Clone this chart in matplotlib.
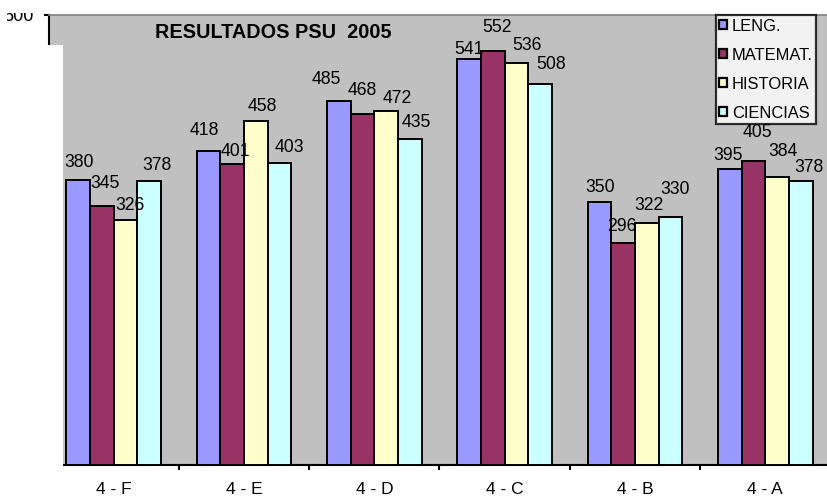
import matplotlib
matplotlib.use("Agg")
import matplotlib.pyplot as plt
from matplotlib.patches import Rectangle, Patch
import numpy as np

categories = ['4 - F', '4 - E', '4 - D', '4 - C', '4 - B', '4 - A']
series_names = ['LENG.', 'MATEMAT.', 'HISTORIA', 'CIENCIAS']
leng = [380, 418, 485, 541, 350, 395]
matemat = [345, 401, 468, 552, 296, 405]
historia = [326, 458, 472, 536, 322, 384]
ciencias = [378, 403, 435, 508, 330, 378]
y_ticks = [0, 100, 200, 300, 400, 500, 600]
title = 'RESULTADOS PSU  2005'

# label placement (pixel offsets of the label centre from the bar-top centre)
label_dx = [[0.7, -4, -12, 0, 1, -1.5],
            [3.5, 3, 0, 4, -1, 4],
            [4.7, 6, 11, 10, 1.7, 6],
            [7.3, 9.5, 6, 10.5, 5, 8]]
label_dy = [[19, 23, 24, 12, 17, 15],
            [24.5, 15, 25, 25, 18.5, 30.5],
            [17, 16.5, 14.5, 19, 19.5, 27],
            [17.5, 17.5, 18, 21.5, 30, 16]]

colors = ['#9999FF', '#993366', '#FFFFCC', '#CCFFFF']
plt.rcParams['font.family'] = ['Liberation Sans', 'DejaVu Sans']

W, H = 828, 498
fig = plt.figure(figsize=(W / 100, H / 100), dpi=100)
ax = fig.add_axes([48.6 / W, 33 / H, 781.8 / W, 450 / H])
ax.set_facecolor('#C0C0C0')

x = np.arange(len(categories))
bw = 0.182
all_series = [leng, matemat, historia, ciencias]
LBL_FS = 12.7
cap_half = 0.716 * LBL_FS * 100 / 72 / 2
for i, (vals, name, col) in enumerate(zip(all_series, series_names, colors)):
    xs = x + (i - 1.5) * bw
    ax.bar(xs, vals, bw, color=col, edgecolor='black',
           linewidth=1.4, label=name, zorder=3)
    for j, (xx, v) in enumerate(zip(xs, vals)):
        ax.annotate(str(v), xy=(xx, v),
                    xytext=(label_dx[i][j], label_dy[i][j] - cap_half),
                    textcoords='offset pixels', ha='center', va='baseline',
                    fontsize=LBL_FS, zorder=4)

ax.set_xlim(-0.5, len(categories) - 0.5)
ax.set_ylim(0, 600)
ax.set_yticks(y_ticks)
ax.tick_params(axis='y', direction='out', length=3.6, width=1.5, pad=7, labelsize=13)
ax.set_xticks(x)
ax.set_xticklabels(categories)
ax.set_xticks(np.arange(-0.5, len(categories), 1.0), minor=True)
ax.tick_params(axis='x', which='major', length=0, pad=12.5, labelsize=12.5)
ax.tick_params(axis='x', which='minor', direction='out', length=3.6, width=1.5)

for s in ['left', 'bottom']:
    ax.spines[s].set_linewidth(1.5)
    ax.spines[s].set_color('black')
ax.spines['top'].set_color('#808080')
ax.spines['top'].set_linewidth(1.2)
ax.spines['right'].set_visible(False)

fig.text(273 / W, 1 - 32 / H, title, ha='center', va='center', fontsize=14.3,
         fontweight='bold', zorder=5)

handles = [Patch(facecolor=c, edgecolor='black', linewidth=1.6) for c in colors]
leg = fig.legend(handles, series_names, loc='lower left',
                 bbox_to_anchor=(716 / W, 1 - 124 / H), fontsize=11.9,
                 frameon=True, fancybox=False, borderpad=0.2,
                 handlelength=0.45, handleheight=0.45, handletextpad=0.3,
                 labelspacing=0.85, borderaxespad=0)
leg.get_frame().set_edgecolor('black')
leg.get_frame().set_linewidth(1.6)
leg.set_zorder(6)

# white masks (cropped regions of the original chart)
def mask(x0, y0, x1, y1):
    fig.add_artist(Rectangle((x0 / W, 1 - y1 / H), (x1 - x0) / W, (y1 - y0) / H,
                             transform=fig.transFigure, facecolor='white',
                             edgecolor='none', zorder=20))

mask(0, 0, W, 13)
mask(0, 45, 63.3, H)
mask(0, 0, 7, H)

fig.savefig('out.png', dpi=100)
